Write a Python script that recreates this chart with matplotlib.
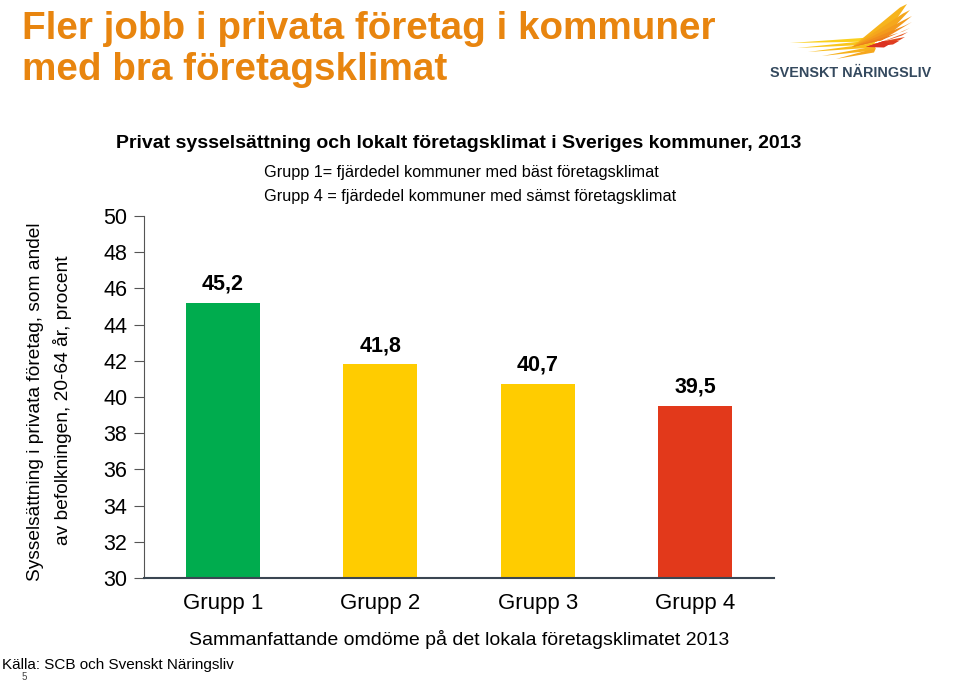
import matplotlib
matplotlib.use("Agg")
import matplotlib.pyplot as plt
from matplotlib.patches import Polygon

plt.rcParams['font.family'] = ['Liberation Sans', 'DejaVu Sans']

categories = ["Grupp 1", "Grupp 2", "Grupp 3", "Grupp 4"]
values = [45.2, 41.8, 40.7, 39.5]
value_labels = ["45,2", "41,8", "40,7", "39,5"]
bar_colors = ["#00AC4E", "#FFCC00", "#FFCC00", "#E2391B"]
yticks = [30, 32, 34, 36, 38, 40, 42, 44, 46, 48, 50]

W, H = 960, 683
fig = plt.figure(figsize=(9.6, 6.83), dpi=100)
ax = fig.add_axes([144 / W, 1 - 578 / H, 630 / W, 362 / H])

x = list(range(len(categories)))
ax.bar(x, [v - 30 for v in values], bottom=30, width=0.47, color=bar_colors)
ax.set_xlim(-0.5, 3.5)
ax.set_ylim(30, 50)
ax.set_yticks(yticks)
ax.set_yticklabels([str(t) for t in yticks], fontsize=15.5)
ax.set_xticks(x)
ax.set_xticklabels(categories, fontsize=16)
ax.tick_params(axis='x', length=0, pad=11)
ax.tick_params(axis='y', length=7, direction='out', pad=5, color='#555555')
for s in ['top', 'right']:
    ax.spines[s].set_visible(False)
ax.spines['left'].set_color('#555555')
ax.spines['bottom'].set_color('#3a4652')
ax.spines['bottom'].set_linewidth(1.5)

for xi, v, lbl in zip(x, values, value_labels):
    ax.annotate(lbl, (xi, v), xytext=(0, 6), textcoords='offset points',
                ha='center', va='bottom', fontsize=15.5, fontweight='bold')

ax.set_xlabel("Sammanfattande omdöme på det lokala företagsklimatet 2013", fontsize=14, labelpad=11)

# Y label (two lines)
fig.text(36 / W, 1 - 402 / H, "Sysselsättning i privata företag, som andel", rotation=90,
         ha='center', va='center', fontsize=13.8)
fig.text(62 / W, 1 - 400 / H, "av befolkningen, 20-64 år, procent", rotation=90,
         ha='center', va='center', fontsize=13.8)

# Titles
fig.text(22 / W, 1 - 29 / H, "Fler jobb i privata företag i kommuner", fontsize=27.8,
         fontweight='bold', color='#E8850F', va='center')
fig.text(22 / W, 1 - 70 / H, "med bra företagsklimat", fontsize=27.8,
         fontweight='bold', color='#E8850F', va='center')
fig.text(459 / W, 1 - 144 / H, "Privat sysselsättning och lokalt företagsklimat i Sveriges kommuner, 2013",
         fontsize=14, fontweight='bold', ha='center', va='center')
fig.text(264 / W, 1 - 172 / H, "Grupp 1= fjärdedel kommuner med bäst företagsklimat",
         fontsize=11.7, va='center')
fig.text(264 / W, 1 - 197 / H, "Grupp 4 = fjärdedel kommuner med sämst företagsklimat",
         fontsize=11.7, va='center')

fig.text(2 / W, 1 - 665 / H, "Källa: SCB och Svenskt Näringsliv", fontsize=11, va='center')
fig.text(22 / W, 1 - 677 / H, "5", fontsize=7, va='center', color='#444444')

# Logo
fig.text(851 / W, 1 - 73 / H, "SVENSKT NÄRINGSLIV", fontsize=10.4, fontweight='bold',
         color='#34495E', ha='center', va='center')


def px(pts):
    return [(a / W, 1 - b / H) for a, b in pts]


def add(pts, col):
    fig.add_artist(Polygon(px(pts), closed=True, transform=fig.transFigure, color=col, lw=0))


# lower-left strokes converging to the body
left = [((790, 43), 37, "#FAD01E"), ((797, 48), 40, "#F9C61D"),
        ((808, 52), 43, "#F8BC1C"), ((822, 56), 46, "#F7B11C"),
        ((836, 59), 48, "#F6A71C")]
for (lx, ly), by, col in left:
    add([(lx, ly), (876, by), (874, by + 4.5)], col)
# upper fan feathers
upper = [((907, 4), "#F7B41C"), ((910, 10), "#F5A71C"), ((912, 16), "#F39A1C"),
         ((912, 22), "#F08C1C"), ((910, 28), "#EC7C1D")]
for (tx, ty), col in upper:
    add([(852, 47), (tx - 7, ty + 3.5), (tx, ty), (882, 40)], col)
# red feathers
red = [((908, 32), "#E6561F"), ((905, 37), "#E3481F"), ((899, 41), "#DF3C20"),
       ((890, 44), "#DB3221")]
for (tx, ty), col in red:
    add([(866, 47), (tx - 6, ty + 3.5), (tx, ty), (884, 41)], col)

fig.savefig("out.png", dpi=100)
